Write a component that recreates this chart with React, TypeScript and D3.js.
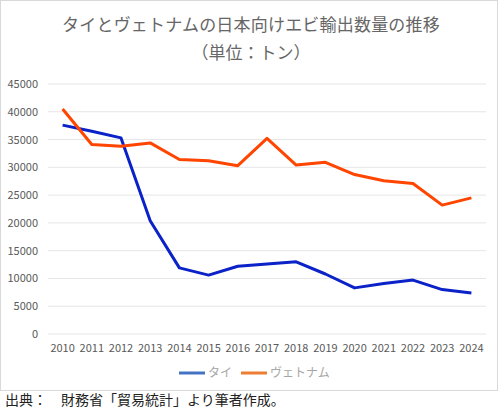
import React from "react";
import * as d3 from "d3";

const years = ["2010","2011","2012","2013","2014","2015","2016","2017","2018","2019","2020","2021","2022","2023","2024"];
const thai = [37600, 36500, 35300, 20400, 11900, 10600, 12200, 12600, 13000, 10800, 8300, 9100, 9700, 8000, 7400];
const vietnam = [40500, 34100, 33800, 34400, 31400, 31200, 30300, 35200, 30400, 30900, 28700, 27600, 27100, 23200, 24500];
const yTicks = [0, 5000, 10000, 15000, 20000, 25000, 30000, 35000, 40000, 45000];
const seriesNames = ["タイ", "ヴェトナム"];
const lineColors = ["#0A22C8", "#FF4500"];
const legendColors = ["#4472C4", "#ED7D31"];

const FONT = "'Noto Sans CJK JP', 'Noto Sans', sans-serif";

export default function App() {
  const W = 500, H = 408;
  const x = d3.scaleBand<string>().domain(years).range([48, 486]);
  const y = d3.scaleLinear().domain([0, 45000]).range([334, 84]);
  const line = d3.line<number>()
    .x((_, i) => (x(years[i]) as number) + x.bandwidth() / 2)
    .y((d) => y(d));
  const data = [thai, vietnam];
  return (
    <svg width={W} height={H} style={{ position: "absolute", left: 0, top: 0, background: "#fff" }} fontFamily={FONT}>
      <rect x={0.5} y={0.5} width={497} height={390} fill="#fff" stroke="#D9D9D9" />
      <text x={251} y={31} textAnchor="middle" fontSize={17} fill="#666" letterSpacing={0.2}>タイとヴェトナムの日本向けエビ輸出数量の推移</text>
      <text x={251} y={59} textAnchor="middle" fontSize={17} fill="#666">（単位：トン）</text>
      {yTicks.map((t) => (
        <g key={t}>
          <line x1={48} x2={486} y1={y(t)} y2={y(t)} stroke="#E6E6E6" strokeWidth={1} />
          <text x={38} y={y(t) + 4} textAnchor="end" fontSize={11} fill="#595959">{t}</text>
        </g>
      ))}
      {years.map((yr) => (
        <text key={yr} x={(x(yr) as number) + x.bandwidth() / 2} y={352} textAnchor="middle" fontSize={11} fill="#595959">{yr}</text>
      ))}
      {data.map((d, i) => (
        <path key={i} d={line(d) || ""} fill="none" stroke={lineColors[i]} strokeWidth={3} strokeLinejoin="round" />
      ))}
      <g>
        <line x1={179} x2={205} y1={373} y2={373} stroke={legendColors[0]} strokeWidth={3} />
        <text x={208} y={377} fontSize={12} fill="#A6A6A6">{seriesNames[0]}</text>
        <line x1={241} x2={267} y1={373} y2={373} stroke={legendColors[1]} strokeWidth={3} />
        <text x={270} y={377} fontSize={12} fill="#A6A6A6">{seriesNames[1]}</text>
      </g>
      <text x={5} y={405} fontSize={14} fill="#222">出典：　財務省「貿易統計」より筆者作成。</text>
    </svg>
  );
}
